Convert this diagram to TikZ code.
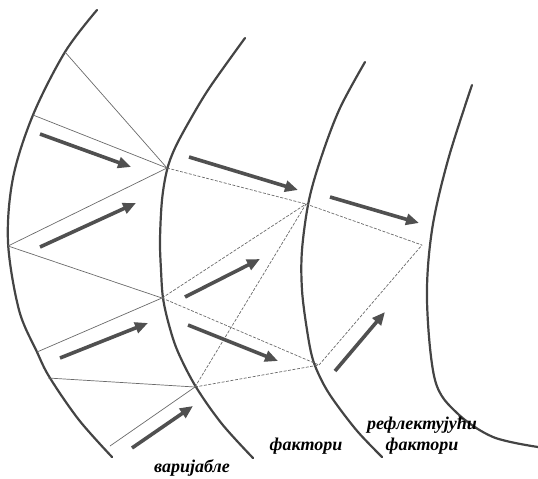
\documentclass[tikz,border=0pt]{standalone}
\usepackage{fontspec}
\setmainfont{Liberation Serif}
\usetikzlibrary{arrows.meta}
\definecolor{curvecol}{HTML}{444444}
\definecolor{thincol}{HTML}{6A6A6A}
\definecolor{arrcol}{HTML}{505050}
\tikzset{
  bigcurve/.style={draw=curvecol, line width=2.2pt, line cap=round},
  thinline/.style={draw=thincol, line width=0.7pt},
  dashline/.style={draw=thincol, line width=0.7pt, dash pattern=on 3pt off 1.5pt},
  flowarrow/.style={draw=arrcol, line width=3.6pt, -{Triangle[length=13pt, width=11pt]}},
  lbl/.style={font=\fontsize{18}{21}\selectfont\bfseries\itshape, text=black, inner sep=0pt, align=center}
}
\begin{document}
\begin{tikzpicture}[x=1pt, y=-1pt]
\useasboundingbox (0,0) rectangle (538,479);
% curves
\draw[bigcurve] plot[smooth, tension=0.55] coordinates {(97,10) (65,52) (33,115) (13,178) (8,242) (19,310) (37,352) (50,378) (79,420) (112,457)};
\draw[bigcurve] plot[smooth, tension=0.55] coordinates {(245,38) (210,87) (190,120) (175,148) (167,170) (162,200) (160,240) (161,270) (163,298) (169,325) (178,352) (196,387) (222,424) (253,458)};
\draw[bigcurve] plot[smooth, tension=0.55] coordinates {(365,62) (340,108) (322,155) (309,200) (302,250) (302,290) (307,330) (313,360) (324,385) (337,405) (358,432) (382,457)};
\draw[bigcurve] plot[smooth, tension=0.55] coordinates {(472,85) (448,160) (432,230) (427,300) (435,380) (457,413) (493,437) (538,447)};
% points
\coordinate (A) at (65,52);
\coordinate (B) at (33,115);
\coordinate (C) at (8,246);
\coordinate (D) at (37,352);
\coordinate (E) at (48,378);
\coordinate (F) at (110,446);
\coordinate (V1) at (167,168);
\coordinate (V2) at (162,298);
\coordinate (V3) at (195,387);
\coordinate (P) at (306,204);
\coordinate (R) at (319,365);
\coordinate (Q) at (422,245);
% thin lines
\draw[thinline] (A) -- (V1);
\draw[thinline] (B) -- (V1);
\draw[thinline] (C) -- (V1);
\draw[thinline] (C) -- (V2);
\draw[thinline] (D) -- (V2);
\draw[thinline] (E) -- (V3);
\draw[thinline] (F) -- (V3);
\draw[dashline] (V1) -- (P);
\draw[dashline] (V2) -- (P);
\draw[dashline] (V3) -- (P);
\draw[dashline] (V2) -- (R);
\draw[dashline] (V3) -- (R);
\draw[dashline] (P) -- (Q);
\draw[dashline] (R) -- (Q);
% arrows
\coordinate (a1s) at (40,134); \coordinate (a1e) at (131,167);
\coordinate (a2s) at (40,247); \coordinate (a2e) at (136,203);
\coordinate (a3s) at (189,157); \coordinate (a3e) at (298,190);
\coordinate (a4s) at (330,197); \coordinate (a4e) at (419,223);
\coordinate (a5s) at (185,297); \coordinate (a5e) at (260,259);
\coordinate (a6s) at (188,325); \coordinate (a6e) at (278,361);
\coordinate (a7s) at (60,358); \coordinate (a7e) at (148,323);
\coordinate (a8s) at (132,448); \coordinate (a8e) at (193,406);
\coordinate (a9s) at (335,371); \coordinate (a9e) at (385,312);
\draw[flowarrow] (a1s) -- (a1e);
\draw[flowarrow] (a2s) -- (a2e);
\draw[flowarrow] (a3s) -- (a3e);
\draw[flowarrow] (a4s) -- (a4e);
\draw[flowarrow] (a5s) -- (a5e);
\draw[flowarrow] (a6s) -- (a6e);
\draw[flowarrow] (a7s) -- (a7e);
\draw[flowarrow] (a8s) -- (a8e);
\draw[flowarrow] (a9s) -- (a9e);
% labels
\node[lbl] (var) at (192,468) {варијабле};
\node[lbl] (fak) at (306,446) {фактори};
\node[lbl] (ref) at (422,436) {рефлектујући\\фактори};
\end{tikzpicture}
\end{document}
